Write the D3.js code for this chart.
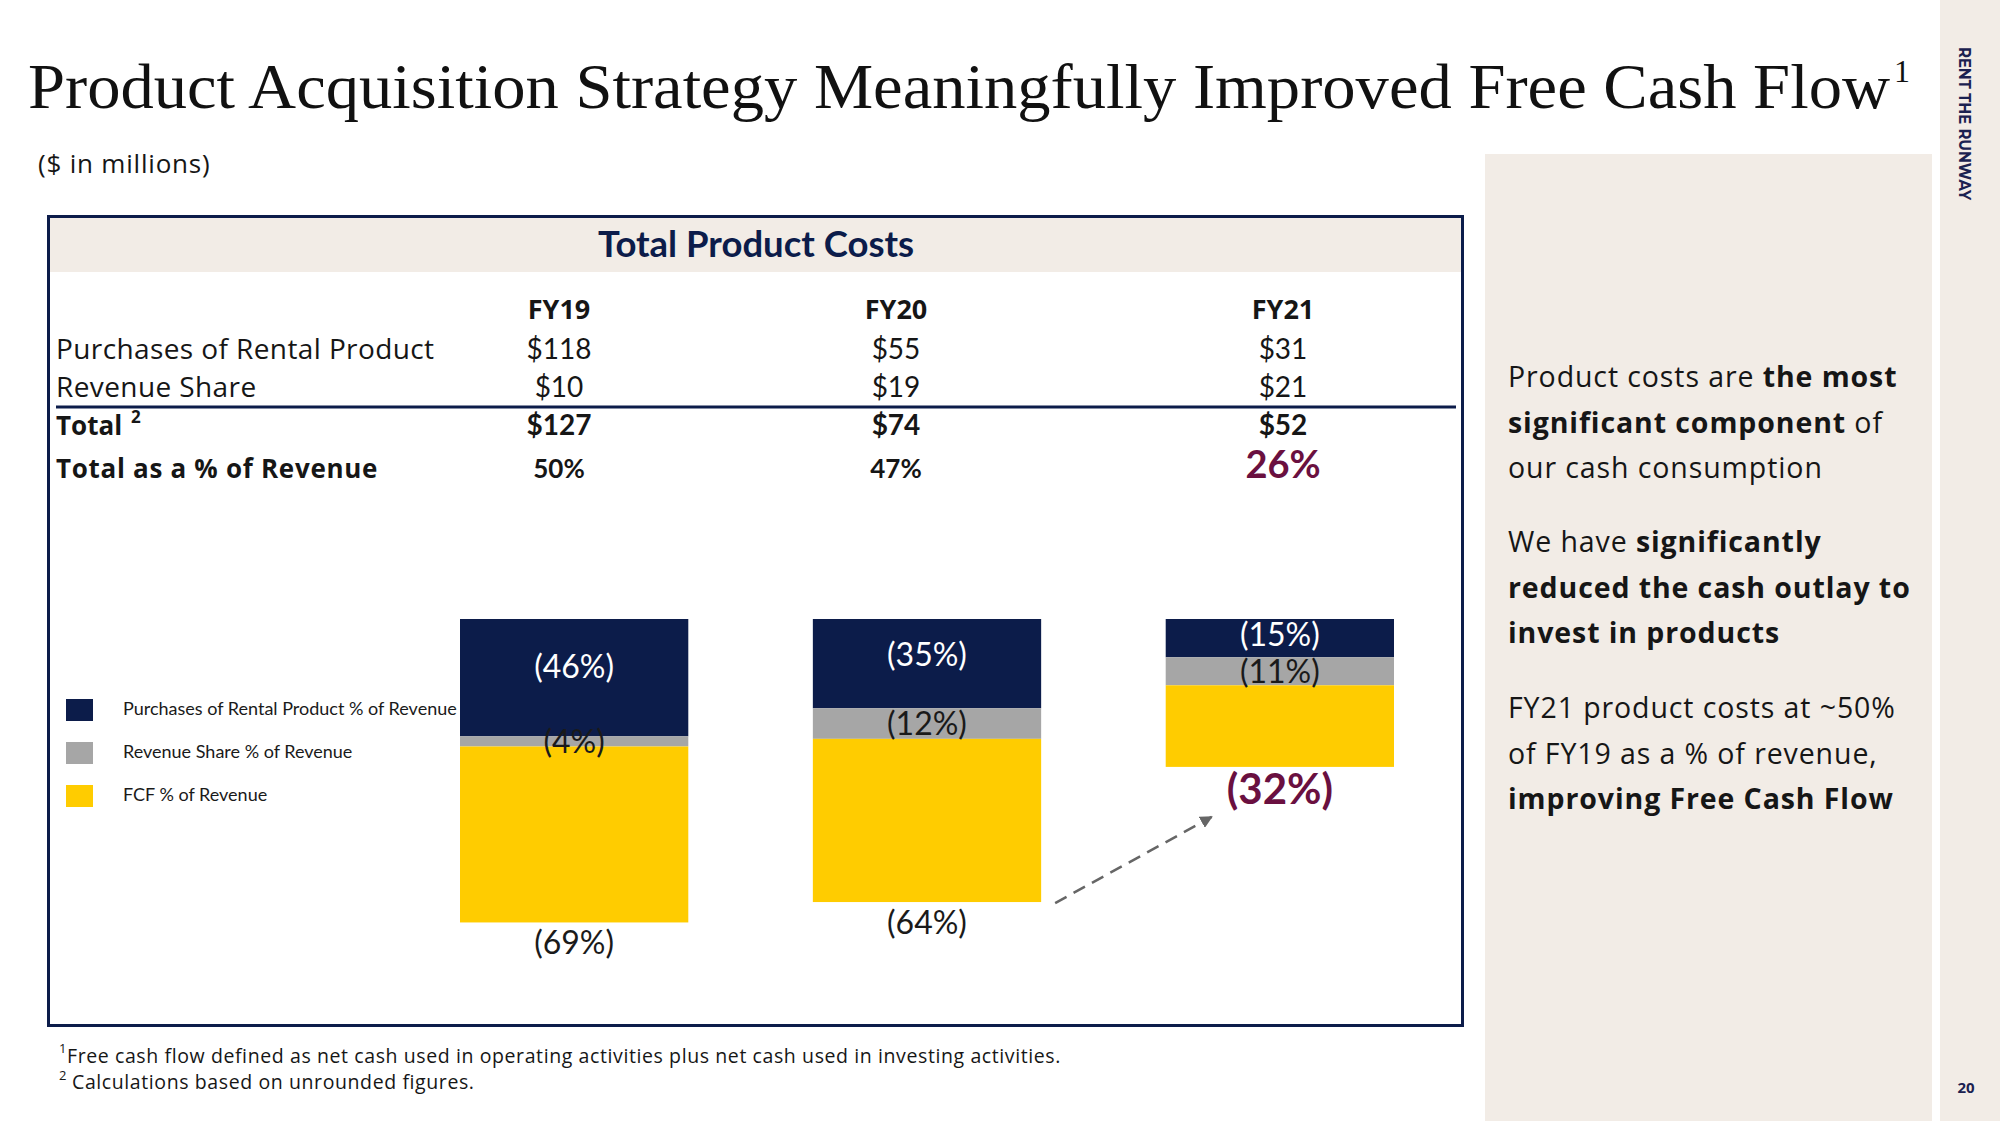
<!DOCTYPE html>
<html>
<head>
<meta charset="utf-8">
<script src="https://cdn.jsdelivr.net/npm/d3@7"></script>
<style>
  html, body { margin: 0; padding: 0; background: #ffffff; }
  svg { display: block; }
</style>
</head>
<body>
<script>
// ---------------- DATA ----------------
const years = ["FY19", "FY20", "FY21"];
const purchases = [118, 55, 31];          // $M purchases of rental product
const revenueShare = [10, 19, 21];        // $M revenue share
const totals = [127, 74, 52];             // $M total product costs
const totalPctRevenue = [50, 47, 26];     // total as % of revenue
const purchasesPct = [46, 35, 15];        // purchases of rental product % of revenue (negative)
const revSharePct = [4, 12, 11];          // revenue share % of revenue (negative)
const fcfPct = [69, 64, 32];              // FCF % of revenue (negative)
const seriesKeys = ["purchases", "revShare", "fcf"];
const legendLabels = ["Purchases of Rental Product % of Revenue", "Revenue Share % of Revenue", "FCF % of Revenue"];
const rightParas = [
  [[["Product costs are ", 0], ["the most", 1]], [["significant component", 1], [" of", 0]], [["our cash consumption", 0]]],
  [[["We have ", 0], ["significantly", 1]], [["reduced the cash outlay to", 1]], [["invest in products", 1]]],
  [[["FY21 product costs at ~50%", 0]], [["of FY19 as a % of revenue,", 0]], [["improving Free Cash Flow", 1]]]
];

// ---------------- STYLE ----------------
const NAVY = "#0c1c4a", GRAY = "#a6a6a6", YELLOW = "#ffcc00", MAROON = "#6a1040";
const BEIGE = "#f2ece6", INK = "#161616";
const SANS = "Lato, 'Open Sans', sans-serif";
const OSANS = "'Open Sans', Lato, sans-serif";

const svg = d3.select("body").append("svg").attr("width", 2000).attr("height", 1125);
svg.append("rect").attr("width", 2000).attr("height", 1125).attr("fill", "#fff");

// Right side panels
svg.append("rect").attr("x", 1485).attr("y", 154).attr("width", 447).attr("height", 967).attr("fill", BEIGE);
svg.append("rect").attr("x", 1940).attr("y", 0).attr("width", 60).attr("height", 1121).attr("fill", BEIGE);
svg.append("text").attr("transform", "translate(1959,47) rotate(90)")
  .attr("font-family", "Montserrat, 'Open Sans', sans-serif").attr("font-weight", 700)
  .attr("font-size", 15.5).attr("fill", "#1b2150").attr("textLength", 153).attr("lengthAdjust", "spacingAndGlyphs")
  .text("RENT THE RUNWAY");
svg.append("text").attr("x", 1966).attr("y", 1093).attr("text-anchor", "middle")
  .attr("font-family", OSANS).attr("font-weight", 700).attr("font-size", 15).attr("fill", "#1b2150")
  .text("20");

// Title
svg.append("text").attr("x", 28).attr("y", 108)
  .attr("font-family", "'Liberation Serif', 'DejaVu Serif', serif").attr("font-size", 64).attr("fill", "#111")
  .attr("textLength", 1862).attr("lengthAdjust", "spacingAndGlyphs")
  .text("Product Acquisition Strategy Meaningfully Improved Free Cash Flow");
svg.append("text").attr("x", 1894).attr("y", 82)
  .attr("font-family", "'Liberation Serif', serif").attr("font-size", 32).attr("fill", "#111").text("1");

svg.append("text").attr("x", 38).attr("y", 173).attr("font-family", OSANS).attr("font-size", 26)
  .attr("letter-spacing", 0.8).attr("fill", INK)
  .text("($ in millions)");

// Table box
svg.append("rect").attr("x", 48.5).attr("y", 216.5).attr("width", 1414).attr("height", 809)
  .attr("fill", "#fff").attr("stroke", NAVY).attr("stroke-width", 3);
svg.append("rect").attr("x", 50).attr("y", 218).attr("width", 1411).attr("height", 54).attr("fill", BEIGE);
svg.append("text").attr("x", 756).attr("y", 257).attr("text-anchor", "middle")
  .attr("font-family", SANS).attr("font-weight", 700).attr("font-size", 36.5).attr("fill", NAVY)
  .text("Total Product Costs");

// Table columns
const col = d3.scaleOrdinal().domain(years).range([559, 896, 1283]);
const labelX = 56;
const tbl = svg.append("g").attr("font-family", SANS).attr("fill", INK);

tbl.selectAll(".hdr").data(years).join("text")
  .attr("x", d => col(d)).attr("y", 319).attr("text-anchor", "middle").attr("font-family", OSANS)
  .attr("font-weight", 700).attr("font-size", 27).text(d => d);

const rows = [
  { label: "Purchases of Rental Product", vals: purchases, fmt: v => "$" + v, y: 359, bold: false, size: 28, lsize: 28, ls: 0.4 },
  { label: "Revenue Share", vals: revenueShare, fmt: v => "$" + v, y: 397, bold: false, size: 28, lsize: 28, ls: 0.4 },
  { label: "Total", vals: totals, fmt: v => "$" + v, y: 435, bold: true, size: 28, lsize: 26, ls: 0 },
  { label: "Total as a % of Revenue", vals: totalPctRevenue, fmt: v => v + "%", y: 478, bold: true, size: 26, lsize: 26, ls: 0.7 }
];
rows.forEach((r, ri) => {
  tbl.append("text").attr("x", labelX).attr("y", r.y).attr("font-family", OSANS)
    .attr("font-size", r.lsize).attr("letter-spacing", r.ls)
    .attr("font-weight", r.bold ? 700 : 400).text(r.label);
  tbl.selectAll(".v" + ri).data(r.vals).join("text")
    .attr("x", (d, i) => col(years[i])).attr("y", r.y).attr("text-anchor", "middle")
    .attr("font-size", (d, i) => (ri === 3 && i === 2) ? 38 : r.size)
    .attr("font-weight", r.bold ? 700 : 400)
    .attr("fill", (d, i) => (ri === 3 && i === 2) ? MAROON : INK)
    .text(r.fmt);
});
tbl.append("text").attr("x", 131).attr("y", 423).attr("font-family", OSANS).attr("font-size", 17).attr("font-weight", 700).text("2");
svg.append("line").attr("x1", 56).attr("x2", 1456).attr("y1", 407).attr("y2", 407)
  .attr("stroke", NAVY).attr("stroke-width", 3);

// ---------------- BARS ----------------
const barData = years.map((y, i) => ({ year: y, purchases: purchasesPct[i], revShare: revSharePct[i], fcf: fcfPct[i] }));
const stack = d3.stack().keys(seriesKeys)(barData);
const x = d3.scaleBand().domain(years).range([460, 1394]).paddingInner(0.353).paddingOuter(0);
const y = d3.scaleLinear().domain([0, 120]).range([619, 925]);   // magnitude of negative % of revenue, hanging down from zero
const color = d3.scaleOrdinal().domain(seriesKeys).range([NAVY, GRAY, YELLOW]);

const gBars = svg.append("g");
gBars.selectAll("g.layer").data(stack).join("g").attr("class", "layer").attr("fill", d => color(d.key))
  .selectAll("rect").data(d => d).join("rect")
  .attr("x", d => x(d.data.year)).attr("width", x.bandwidth())
  .attr("y", d => y(d[0])).attr("height", d => y(d[1]) - y(d[0]));

const segFont = 32;
const pctLabel = v => "(" + v + "%)";
// inner labels (navy + gray)
[0, 1].forEach(li => {
  gBars.selectAll(".lab" + li).data(stack[li]).join("text")
    .attr("x", d => x(d.data.year) + x.bandwidth() / 2)
    .attr("y", d => (y(d[0]) + y(d[1])) / 2 + segFont * 0.36 - (li === 0 ? Math.min(11, (y(d[1]) - y(d[0])) * 0.1) : 0))
    .attr("text-anchor", "middle").attr("font-family", SANS).attr("font-size", segFont)
    .attr("fill", li === 0 ? "#ffffff" : "#1a1a1a")
    .text(d => pctLabel(d[1] - d[0]));
});
// bottom labels (FCF)
gBars.selectAll(".labf").data(stack[2]).join("text")
  .attr("x", d => x(d.data.year) + x.bandwidth() / 2)
  .attr("y", (d, i) => y(d[1]) + (i === 2 ? 37 : 32))
  .attr("text-anchor", "middle").attr("font-family", SANS)
  .attr("font-size", (d, i) => i === 2 ? 42 : segFont)
  .attr("font-weight", (d, i) => i === 2 ? 700 : 400)
  .attr("fill", (d, i) => i === 2 ? MAROON : "#1a1a1a")
  .text(d => pctLabel(d[1] - d[0]));

// dashed arrow
svg.append("defs").append("marker").attr("id", "ah").attr("viewBox", "0 0 10 10")
  .attr("refX", 9).attr("refY", 5).attr("markerWidth", 5).attr("markerHeight", 5).attr("orient", "auto")
  .append("path").attr("d", "M0,0 L10,5 L0,10 z").attr("fill", "#666");
const s20 = stack[2][1], s21 = stack[2][2];
svg.append("line")
  .attr("x1", x("FY20") + x.bandwidth() + 14).attr("y1", y(s20[1]) + 1)
  .attr("x2", x("FY21") + 46).attr("y2", y(s21[1]) + 50)
  .attr("stroke", "#666").attr("stroke-width", 2.5).attr("stroke-dasharray", "13 8")
  .attr("marker-end", "url(#ah)");

// legend
const lg = svg.append("g");
legendLabels.forEach((t, i) => {
  lg.append("rect").attr("x", 66).attr("y", 699 + i * 43).attr("width", 27).attr("height", 22).attr("fill", color(seriesKeys[i]));
  lg.append("text").attr("x", 123).attr("y", 715 + i * 43).attr("font-family", SANS).attr("font-size", 18)
    .attr("fill", "#1a1a1a").text(t);
});

// right panel text
const rp = svg.append("g").attr("font-family", OSANS).attr("font-size", 28.5).attr("letter-spacing", 0.9)
  .attr("fill", INK);
const paraTops = [387, 552, 718];
rightParas.forEach((para, pi) => {
  para.forEach((line, li) => {
    const t = rp.append("text").attr("x", 1508).attr("y", paraTops[pi] + li * 45.5);
    line.forEach(([s, b]) => t.append("tspan").attr("font-weight", b ? 700 : 400).text(s));
  });
});

// footnotes
const fn = svg.append("g").attr("font-family", OSANS).attr("fill", INK);
fn.append("text").attr("x", 59).attr("y", 1053).attr("font-size", 13).text("1");
fn.append("text").attr("x", 67).attr("y", 1063).attr("font-size", 19.5).attr("letter-spacing", 0.6)
  .text("Free cash flow defined as net cash used in operating activities plus net cash used in investing activities.");
fn.append("text").attr("x", 59).attr("y", 1080).attr("font-size", 13).text("2");
fn.append("text").attr("x", 72).attr("y", 1089).attr("font-size", 19.5).attr("letter-spacing", 0.6)
  .text("Calculations based on unrounded figures.");
</script>
</body>
</html>
